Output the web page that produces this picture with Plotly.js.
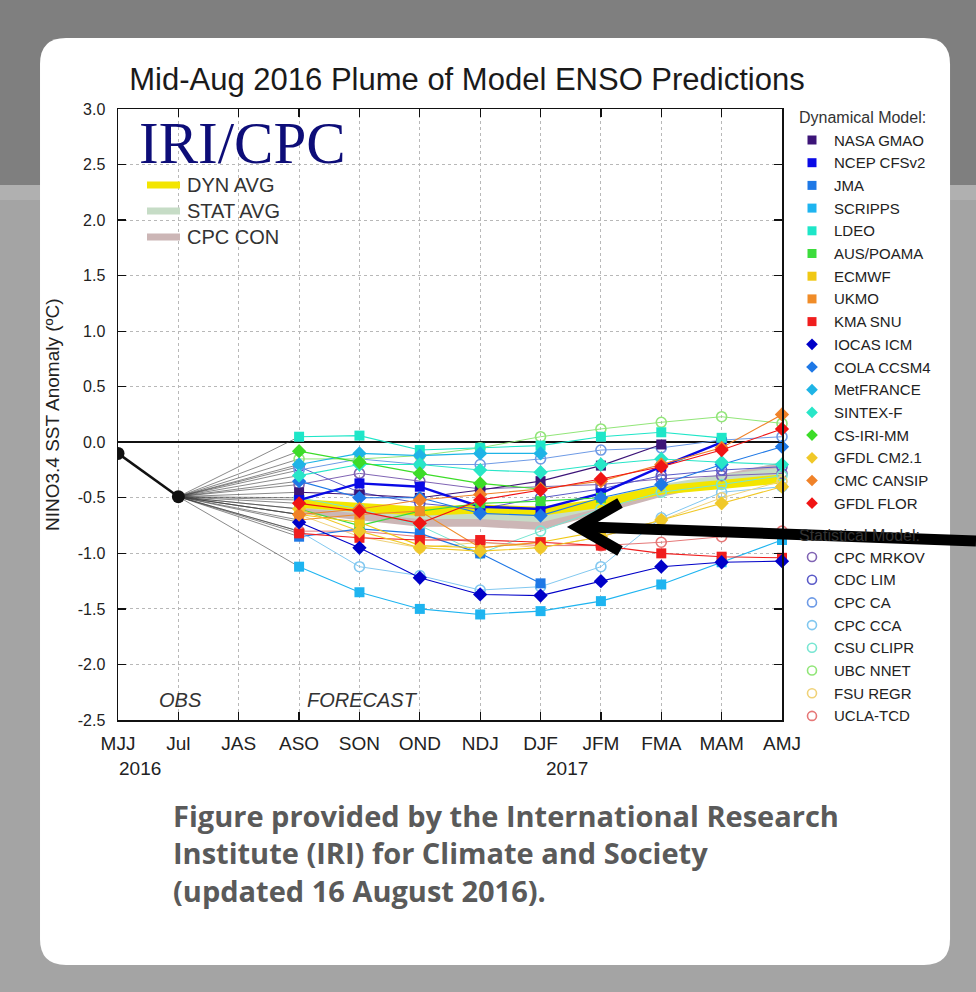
<!DOCTYPE html>
<html>
<head>
<meta charset="utf-8">
<script src="https://cdn.plot.ly/plotly-3.0.1.min.js"></script>
<style>
  html, body { margin: 0; padding: 0; background: #a4a4a4; }
  #plume { width: 976px; height: 992px; }
</style>
</head>
<body>
<div id="plume"></div>
<script>
// seasons on the x axis (obs part + forecast part)
const seasons = ['MJJ', 'Jul', 'JAS', 'ASO', 'SON', 'OND', 'NDJ', 'DJF', 'JFM', 'FMA', 'MAM', 'AMJ'];
const obsSeasons = ['MJJ', 'Jul'];
const forecastSeasons = ['ASO', 'SON', 'OND', 'NDJ', 'DJF', 'JFM', 'FMA', 'MAM', 'AMJ'];
const yTicks = [3.0, 2.5, 2.0, 1.5, 1.0, 0.5, 0.0, -0.5, -1.0, -1.5, -2.0, -2.5];

const obsValues = [-0.1, -0.49];

// dynamical models
const dynNames = ['NASA GMAO', 'NCEP CFSv2', 'JMA', 'SCRIPPS', 'LDEO', 'AUS/POAMA', 'ECMWF', 'UKMO', 'KMA SNU',
    'IOCAS ICM', 'COLA CCSM4', 'MetFRANCE', 'SINTEX-F', 'CS-IRI-MM', 'GFDL CM2.1', 'CMC CANSIP', 'GFDL FLOR'];
const dynColors = ['#3c1478', '#0a0ae6', '#1e78e6', '#1eb4f0', '#1ee6c8', '#3cdc3c', '#f0c814', '#f08c28', '#f01e1e',
    '#0000c8', '#1e78e6', '#1eb4e6', '#28e6c8', '#3cdc28', '#f0c828', '#f08228', '#f01414'];
const dynSymbols = ['square', 'square', 'square', 'square', 'square', 'square', 'square', 'square', 'square',
    'diamond', 'diamond', 'diamond', 'diamond', 'diamond', 'diamond', 'diamond', 'diamond'];
const dynValues = [
    [-0.45, -0.47, -0.50, -0.43, -0.35, -0.21, -0.02, null, null],
    [-0.52, -0.37, -0.40, -0.58, -0.60, -0.46, -0.22, 0.00, null],
    [-0.85, -0.78, -0.82, -1.00, -1.27, null, null, null, null],
    [-1.12, -1.35, -1.50, -1.55, -1.52, -1.43, -1.28, -1.08, -0.88],
    [0.05, 0.06, -0.07, -0.05, -0.03, 0.05, 0.09, 0.04, null],
    [-0.60, -0.75, -0.62, -0.55, -0.53, -0.50, null, null, null],
    [-0.65, -0.72, -0.93, -0.95, -0.90, -0.80, null, null, null],
    [-0.70, -0.65, -0.62, -0.95, -0.90, null, null, null, null],
    [-0.82, -0.86, -0.88, -0.88, -0.90, -0.93, -1.00, -1.03, -1.04],
    [-0.72, -0.95, -1.22, -1.37, -1.38, -1.25, -1.12, -1.08, -1.07],
    [-0.35, -0.50, -0.50, -0.64, -0.66, -0.50, -0.38, -0.20, -0.04],
    [-0.20, -0.10, -0.12, -0.10, -0.10, null, null, null, null],
    [-0.30, -0.20, -0.20, -0.25, -0.27, -0.20, -0.15, -0.18, -0.20],
    [-0.08, -0.18, -0.28, -0.37, -0.42, null, null, null, null],
    [-0.60, -0.80, -0.95, -0.98, -0.95, -0.85, -0.70, -0.55, -0.40],
    [-0.65, -0.60, -0.52, -0.47, -0.42, -0.35, -0.20, -0.05, 0.25],
    [-0.55, -0.62, -0.73, -0.52, -0.43, -0.33, -0.22, -0.07, 0.12],
];

// statistical models
const statNames = ['CPC MRKOV', 'CDC LIM', 'CPC CA', 'CPC CCA', 'CSU CLIPR', 'UBC NNET', 'FSU REGR', 'UCLA-TCD'];
const statColors = ['#8064b4', '#5a5ac8', '#6e9be6', '#82c8f0', '#78e6d2', '#91e678', '#f0d278', '#e67878'];
const statValues = [
    [-0.38, -0.28, -0.35, -0.42, -0.40, -0.38, -0.33, -0.30, -0.28],
    [-0.22, -0.45, -0.55, -0.60, -0.50, -0.42, -0.30, -0.25, -0.22],
    [-0.25, -0.15, -0.20, -0.20, -0.15, -0.07, -0.05, 0.02, 0.05],
    [-0.80, -1.12, -1.20, -1.33, -1.30, -1.12, -0.68, -0.45, -0.40],
    [-0.50, -0.60, -0.75, -1.00, -0.80, -0.60, -0.45, -0.38, -0.30],
    [-0.15, -0.15, -0.12, -0.05, 0.05, 0.12, 0.18, 0.23, 0.17],
    [-0.65, -0.85, -0.95, -0.90, -0.95, -0.85, -0.70, -0.50, -0.35],
    [-0.80, -0.80, -0.85, -0.90, -0.93, -0.93, -0.90, -0.85, -0.80],
];

// averages / consolidated
const avgNames = ['DYN AVG', 'STAT AVG', 'CPC CON'];
const avgColors = ['#f3e500', '#c6dcc6', '#ccb6b6'];
const avgValues = [
    [-0.55, -0.58, -0.62, -0.60, -0.62, -0.55, -0.43, -0.38, -0.33],
    [-0.55, -0.60, -0.65, -0.65, -0.68, -0.55, -0.42, -0.33, -0.27],
    [-0.60, -0.65, -0.72, -0.72, -0.75, -0.60, -0.45, -0.33, -0.22],
];

const captionLines = [
    'Figure provided by the International Research',
    'Institute (IRI) for Climate and Society',
    '(updated 16 August 2016).',
];

const W = 976, H = 992;
const sans = 'Liberation Sans, Arial, Helvetica, sans-serif';

// pixel -> paper helpers (margins are 0, so paper == page)
const px = (x) => x / W;
const py = (y) => 1 - y / H;
const pt = (x, y) => px(x).toFixed(4) + ',' + py(y).toFixed(4);

function roundedRect(x0, y0, x1, y1, r) {
    return 'M' + pt(x0 + r, y0) + ' L' + pt(x1 - r, y0) + ' Q' + pt(x1, y0) + ' ' + pt(x1, y0 + r) +
        ' L' + pt(x1, y1 - r) + ' Q' + pt(x1, y1) + ' ' + pt(x1 - r, y1) +
        ' L' + pt(x0 + r, y1) + ' Q' + pt(x0, y1) + ' ' + pt(x0, y1 - r) +
        ' L' + pt(x0, y0 + r) + ' Q' + pt(x0, y0) + ' ' + pt(x0 + r, y0) + ' Z';
}

// annotation placed in page pixels through the hidden x2/y2 axes
function note(text, x, y, opts = {}) {
    return Object.assign({
        xref: 'x2', yref: 'y2', x: x, y: y, text: text, showarrow: false,
        xanchor: 'left', yanchor: 'middle', font: { family: sans, size: 15, color: '#222' },
    }, opts);
}

const traces = [];

// thick average bands underneath
for (let i = avgNames.length - 1; i >= 0; --i) {
    traces.push({
        x: forecastSeasons, y: avgValues[i], mode: 'lines',
        line: { color: avgColors[i], width: 9 }, hoverinfo: 'skip',
    });
}

// thin lines from the last obs to the first forecast of each model
const connX = [], connY = [];
dynValues.concat(statValues).forEach((vals) => {
    const k = vals.findIndex((v) => v !== null);
    connX.push('Jul', forecastSeasons[k], null);
    connY.push(obsValues[1], vals[k], null);
});
traces.push({ x: connX, y: connY, mode: 'lines', line: { color: '#3a3a3a', width: 0.6 }, hoverinfo: 'skip' });

statNames.forEach((name, i) => {
    traces.push({
        name: name, x: forecastSeasons, y: statValues[i], mode: 'lines+markers', cliponaxis: false,
        line: { color: statColors[i], width: 1 },
        marker: { symbol: 'circle-open', size: 10, color: statColors[i], line: { width: 1.6 } },
    });
});

dynNames.forEach((name, i) => {
    traces.push({
        name: name, x: forecastSeasons, y: dynValues[i], mode: 'lines+markers', cliponaxis: false,
        line: { color: dynColors[i], width: name === 'NCEP CFSv2' ? 2.4 : 1.1 },
        marker: { symbol: dynSymbols[i], size: dynSymbols[i] === 'diamond' ? 11 : 10, color: dynColors[i] },
    });
});

traces.push({
    name: 'OBS', x: obsSeasons, y: obsValues, mode: 'lines+markers',
    line: { color: '#111', width: 2.5 }, marker: { color: '#111', size: 13 },
});

// right-hand legend drawn by hand
const dynRows = dynNames.map((_, i) => 140 + i * 22.7);
const statRows = statNames.map((_, i) => 557 + i * 22.7);
traces.push({
    x: dynRows.map(() => 812), y: dynRows, xaxis: 'x2', yaxis: 'y2', mode: 'markers', hoverinfo: 'skip',
    marker: { symbol: dynSymbols, color: dynColors, size: 9 },
});
traces.push({
    x: statRows.map(() => 812), y: statRows, xaxis: 'x2', yaxis: 'y2', mode: 'markers', hoverinfo: 'skip',
    marker: { symbol: 'circle-open', color: statColors, size: 9, line: { width: 1.6 } },
});

const annotations = [
    note('Dynamical Model:', 797, 117, { font: { family: sans, size: 16, color: '#333' } }),
    note('Statistical Model:', 797, 535, { font: { family: sans, size: 16, color: '#333' } }),
    note('NINO3.4 SST Anomaly (ºC)', 52, 415, { xanchor: 'center', textangle: -90, font: { family: sans, size: 19, color: '#222' } }),
    note('IRI/CPC', 137, 143, { font: { family: 'Liberation Serif, Times New Roman, serif', size: 59, color: '#0d0d78' } }),
    note('<i>OBS</i>', 180, 700, { xanchor: 'center', font: { family: sans, size: 20, color: '#333' } }),
    note('<i>FORECAST</i>', 362, 700, { xanchor: 'center', font: { family: sans, size: 20, color: '#333' } }),
    note('2016', 140, 768, { xanchor: 'center', font: { family: sans, size: 19, color: '#222' } }),
    note('2017', 567, 768, { xanchor: 'center', font: { family: sans, size: 19, color: '#222' } }),
];
dynNames.forEach((name, i) => annotations.push(note(name, 832, dynRows[i])));
statNames.forEach((name, i) => annotations.push(note(name, 832, statRows[i])));
avgNames.forEach((name, i) => annotations.push(note(name, 185, 185 + i * 26, { font: { family: sans, size: 20, color: '#333' } })));
captionLines.forEach((line, i) => annotations.push(note('<b>' + line + '</b>', 171, 815 + i * 37.5, {
    font: { family: 'Open Sans, DejaVu Sans, sans-serif', size: 29, color: '#5a5a5a' },
})));

const shapes = [
    { type: 'rect', xref: 'paper', yref: 'paper', x0: 0, x1: 1, y0: py(185), y1: 1, fillcolor: '#7f7f7f', line: { width: 0 }, layer: 'below' },
    { type: 'rect', xref: 'paper', yref: 'paper', x0: 0, x1: 1, y0: py(200), y1: py(185), fillcolor: '#b0b0b0', line: { width: 0 }, layer: 'below' },
    { type: 'path', xref: 'paper', yref: 'paper', path: roundedRect(40, 38, 950, 965, 26), fillcolor: '#ffffff', line: { width: 0 }, layer: 'below' },
    // the pointer arrow laid over the chart
    { type: 'path', xref: 'x2', yref: 'y2', path: 'M 588,527 L 976,541', line: { color: '#000', width: 11 } },
    { type: 'path', xref: 'x2', yref: 'y2', path: 'M 620,503 L 578,527 L 620,551', line: { color: '#000', width: 11 } },
];
avgNames.forEach((name, i) => shapes.push({
    type: 'line', xref: 'x2', yref: 'y2', x0: 147, x1: 180, y0: 185 + i * 26, y1: 185 + i * 26,
    line: { color: avgColors[i], width: 7 },
}));

const layout = {
    width: W, height: H,
    margin: { l: 0, r: 0, t: 0, b: 0 },
    paper_bgcolor: '#a4a4a4',
    plot_bgcolor: 'rgba(0,0,0,0)',
    showlegend: false,
    font: { family: sans, color: '#222' },
    title: {
        text: 'Mid-Aug 2016 Plume of Model ENSO Predictions',
        font: { family: sans, size: 31, color: '#1a1a1a' },
        x: px(467), xanchor: 'center', y: py(79), yanchor: 'middle',
    },
    xaxis: {
        type: 'category', categoryorder: 'array', categoryarray: seasons, range: [0, 11],
        domain: [px(118), px(782)], anchor: 'y', automargin: false, fixedrange: true,
        showline: true, linecolor: '#111', linewidth: 1.5, mirror: 'allticks',
        ticks: 'inside', ticklen: 8, tickwidth: 1.2, tickcolor: '#111',
        showgrid: true, gridcolor: '#b8b8b8', griddash: 'dot', gridwidth: 1,
        tickfont: { family: sans, size: 19, color: '#222' }, ticklabelstandoff: 6,
    },
    yaxis: {
        range: [-2.5, 3.0], domain: [py(720), py(109)], anchor: 'x', automargin: false, fixedrange: true,
        tickvals: yTicks, ticktext: yTicks.map((v) => v.toFixed(1)),
        showline: true, linecolor: '#111', linewidth: 1.5, mirror: 'allticks',
        ticks: 'inside', ticklen: 8, tickwidth: 1.2, tickcolor: '#111',
        showgrid: true, gridcolor: '#b8b8b8', griddash: 'dot', gridwidth: 1,
        zeroline: true, zerolinecolor: '#111', zerolinewidth: 2,
        tickfont: { family: sans, size: 16, color: '#222' }, ticklabelstandoff: 8,
    },
    xaxis2: { domain: [0, 1], range: [0, W], anchor: 'y2', visible: false, fixedrange: true },
    yaxis2: { domain: [0, 1], range: [H, 0], anchor: 'x2', visible: false, fixedrange: true },
    annotations: annotations,
    shapes: shapes,
};

Plotly.newPlot('plume', traces, layout, { displayModeBar: false, staticPlot: true });
</script>
</body>
</html>
